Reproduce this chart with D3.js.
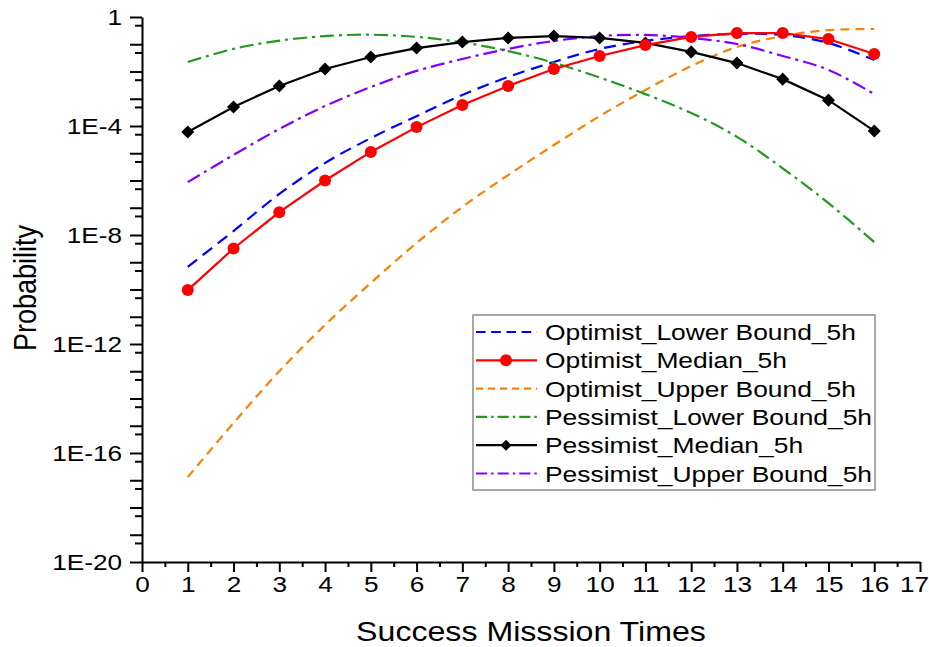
<!DOCTYPE html>
<html>
<head>
<meta charset="utf-8">
<script src="https://cdn.jsdelivr.net/npm/d3@7"></script>
<style>
  body { margin: 0; background: #fff; }
  svg { display: block; font-family: "Liberation Sans", Arial, sans-serif; }
  /* the picture is stretched sideways, so the text is too */
  .stretch-r { transform-box: fill-box; transform-origin: right center; transform: scaleX(1.19); }
  .stretch-c { transform-box: fill-box; transform-origin: center; transform: scaleX(1.19); }
  .stretch-l { transform-box: fill-box; transform-origin: left center; transform: scaleX(1.2); }
</style>
</head>
<body>
<svg id="chart"></svg>
<script>
// success mission times
const missions = [1, 2, 3, 4, 5, 6, 7, 8, 9, 10, 11, 12, 13, 14, 15, 16];

// probabilities
const optimistLower = [6.8e-10, 1.4e-8, 3.2e-7, 4.4e-6, 3.6e-5, 2.3e-4, 1.38e-3, 6.3e-3, 0.0224, 0.0676, 0.132, 0.200, 0.240, 0.219, 0.112, 0.0263];
const optimistMedian = [9.5e-11, 3.2e-9, 6.9e-8, 1.0e-6, 1.12e-5, 9.1e-5, 5.9e-4, 2.95e-3, 0.0123, 0.0372, 0.0933, 0.186, 0.257, 0.257, 0.155, 0.0437];
const optimistUpper = [1.3e-17, 1.26e-15, 1.0e-13, 5.0e-12, 1.74e-10, 5.1e-9, 1.07e-7, 1.58e-6, 2.0e-5, 2.3e-4, 2.1e-3, 0.0158, 0.079, 0.200, 0.331, 0.363];
const pessimistLower = [0.0224, 0.0676, 0.135, 0.200, 0.224, 0.186, 0.117, 0.0562, 0.0209, 6.0e-3, 1.48e-3, 3.0e-4, 4.0e-5, 2.8e-6, 1.48e-7, 5.5e-9];
const pessimistMedian = [6.0e-5, 5.0e-4, 2.95e-3, 0.0123, 0.0339, 0.0724, 0.120, 0.170, 0.200, 0.170, 0.112, 0.0525, 0.0204, 5.25e-3, 8.9e-4, 6.6e-5];
const pessimistUpper = [8.7e-7, 8.7e-6, 7.8e-5, 5.4e-4, 2.7e-3, 0.0105, 0.0288, 0.0676, 0.132, 0.200, 0.219, 0.170, 0.102, 0.0372, 0.0115, 1.48e-3];

const seriesNames = ["Optimist_Lower Bound_5h", "Optimist_Median_5h", "Optimist_Upper Bound_5h",
  "Pessimist_Lower Bound_5h", "Pessimist_Median_5h", "Pessimist_Upper Bound_5h"];

// axis ticks
const xTicks = [0, 1, 2, 3, 4, 5, 6, 7, 8, 9, 10, 11, 12, 13, 14, 15, 16, 17];
const yLabelTicks = [1, 1e-4, 1e-8, 1e-12, 1e-16, 1e-20];
const yTickLabels = ["1", "1E-4", "1E-8", "1E-12", "1E-16", "1E-20"];

const width = 929, height = 647;
const plot = { left: 142, right: 920, top: 17, bottom: 562 };

const svg = d3.select("#chart").attr("width", width).attr("height", height);

const x = d3.scaleLinear().domain([0, 17]).range([plot.left, plot.right]);
const y = d3.scaleLog().domain([1e-20, 1]).range([plot.bottom, plot.top]);

// --- axes ---
const decades = d3.range(0, 21).map(k => Math.pow(10, -k));
const halves = d3.range(1, 21).map(k => 5 * Math.pow(10, -k));

function styleAxis(g) {
  g.selectAll("path, line").attr("stroke", "#000").attr("stroke-width", 2);
}

svg.append("g")
  .attr("transform", `translate(${plot.left},0)`)
  .call(d3.axisLeft(y).tickValues(halves).tickSize(7).tickSizeOuter(0).tickFormat(""))
  .call(g => g.select(".domain").remove())
  .call(styleAxis);

svg.append("g")
  .attr("transform", `translate(${plot.left},0)`)
  .call(d3.axisLeft(y).tickValues(decades).tickSize(12).tickSizeOuter(0).tickPadding(8)
    .tickFormat(d => {
      const i = yLabelTicks.findIndex(v => Math.abs(Math.log10(v) - Math.log10(d)) < 1e-6);
      return i >= 0 ? yTickLabels[i] : "";
    }))
  .call(styleAxis)
  .call(g => g.selectAll("text")
    .attr("class", "stretch-r")
    .attr("fill", "#000")
    .style("font-size", "22px"));

svg.append("g")
  .attr("transform", `translate(0,${plot.bottom})`)
  .call(d3.axisBottom(x).tickValues(d3.range(0.5, 17, 1)).tickSize(5).tickSizeOuter(0).tickFormat(""))
  .call(g => g.select(".domain").remove())
  .call(styleAxis);

svg.append("g")
  .attr("transform", `translate(0,${plot.bottom})`)
  .call(d3.axisBottom(x).tickValues(xTicks).tickSize(10).tickSizeOuter(0).tickPadding(4).tickFormat(d3.format("d")))
  .call(styleAxis)
  .call(g => g.selectAll("text")
    .attr("class", "stretch-c")
    .attr("fill", "#000")
    .style("font-size", "22px"))
  // last label sits at the window edge; nudge it in so it stays whole
  .call(g => g.selectAll(".tick").filter(d => d === 17).select("text").attr("x", -6));

// axis titles
svg.append("text")
  .attr("class", "stretch-c")
  .attr("x", (plot.left + plot.right) / 2)
  .attr("y", 641)
  .attr("text-anchor", "middle")
  .style("font-size", "27px")
  .text("Success Misssion Times");

svg.append("g")
  .attr("transform", "translate(36,288) scale(1.19,1) rotate(-90)")
  .append("text")
  .attr("text-anchor", "middle")
  .style("font-size", "27px")
  .text("Probability");

// --- series ---
const series = [
  { name: seriesNames[0], values: optimistLower, color: "#0000ff", dash: "12,7", smooth: true },
  { name: seriesNames[1], values: optimistMedian, color: "#ff0000", dash: null, marker: "circle" },
  { name: seriesNames[2], values: optimistUpper, color: "#ff8000", dash: "9,6", smooth: true },
  { name: seriesNames[3], values: pessimistLower, color: "#1f9a1f", dash: "14,5,3,5", smooth: true },
  { name: seriesNames[4], values: pessimistMedian, color: "#000000", dash: null, marker: "diamond" },
  { name: seriesNames[5], values: pessimistUpper, color: "#8000ff", dash: "14,5,3,5", smooth: true }
];

const drawOrder = [0, 2, 3, 5, 4, 1];

drawOrder.forEach(i => {
  const s = series[i];
  const pts = missions.map((m, j) => [m, s.values[j]]);
  const line = d3.line()
    .x(d => x(d[0]))
    .y(d => y(d[1]))
    .curve(s.smooth ? d3.curveCatmullRom : d3.curveLinear);

  svg.append("path")
    .datum(pts)
    .attr("fill", "none")
    .attr("stroke", s.color)
    .attr("stroke-width", 2.2)
    .attr("stroke-dasharray", s.dash)
    .attr("d", line);

  if (s.marker === "circle") {
    svg.append("g").selectAll("circle")
      .data(pts)
      .enter()
      .append("circle")
      .attr("cx", d => x(d[0]))
      .attr("cy", d => y(d[1]))
      .attr("r", 6)
      .attr("fill", s.color);
  } else if (s.marker === "diamond") {
    svg.append("g").selectAll("path")
      .data(pts)
      .enter()
      .append("path")
      .attr("d", d3.symbol(d3.symbolSquare, 85))
      .attr("transform", d => `translate(${x(d[0])},${y(d[1])}) rotate(45)`)
      .attr("fill", s.color);
  }
});

// --- legend ---
const legend = svg.append("g").attr("transform", "translate(473,315)");

legend.append("rect")
  .attr("width", 402)
  .attr("height", 175)
  .attr("fill", "#fff")
  .attr("stroke", "#8c8c8c")
  .attr("stroke-width", 1.5);

series.forEach((s, i) => {
  const row = legend.append("g").attr("transform", `translate(0,${17 + i * 28.3})`);
  row.append("line")
    .attr("x1", 3).attr("x2", 64)
    .attr("stroke", s.color)
    .attr("stroke-width", 2.2)
    .attr("stroke-dasharray", s.dash ? s.dash.split(",").map(v => v * 0.8).join(",") : null);
  if (s.marker === "circle") {
    row.append("circle").attr("cx", 33).attr("r", 6).attr("fill", s.color);
  } else if (s.marker === "diamond") {
    row.append("path")
      .attr("d", d3.symbol(d3.symbolSquare, 60))
      .attr("transform", "translate(33,0) rotate(45)")
      .attr("fill", s.color);
  }
  row.append("text")
    .attr("class", "stretch-l")
    .attr("x", 72)
    .attr("y", 8)
    .style("font-size", "22px")
    .text(s.name);
});
</script>
</body>
</html>
